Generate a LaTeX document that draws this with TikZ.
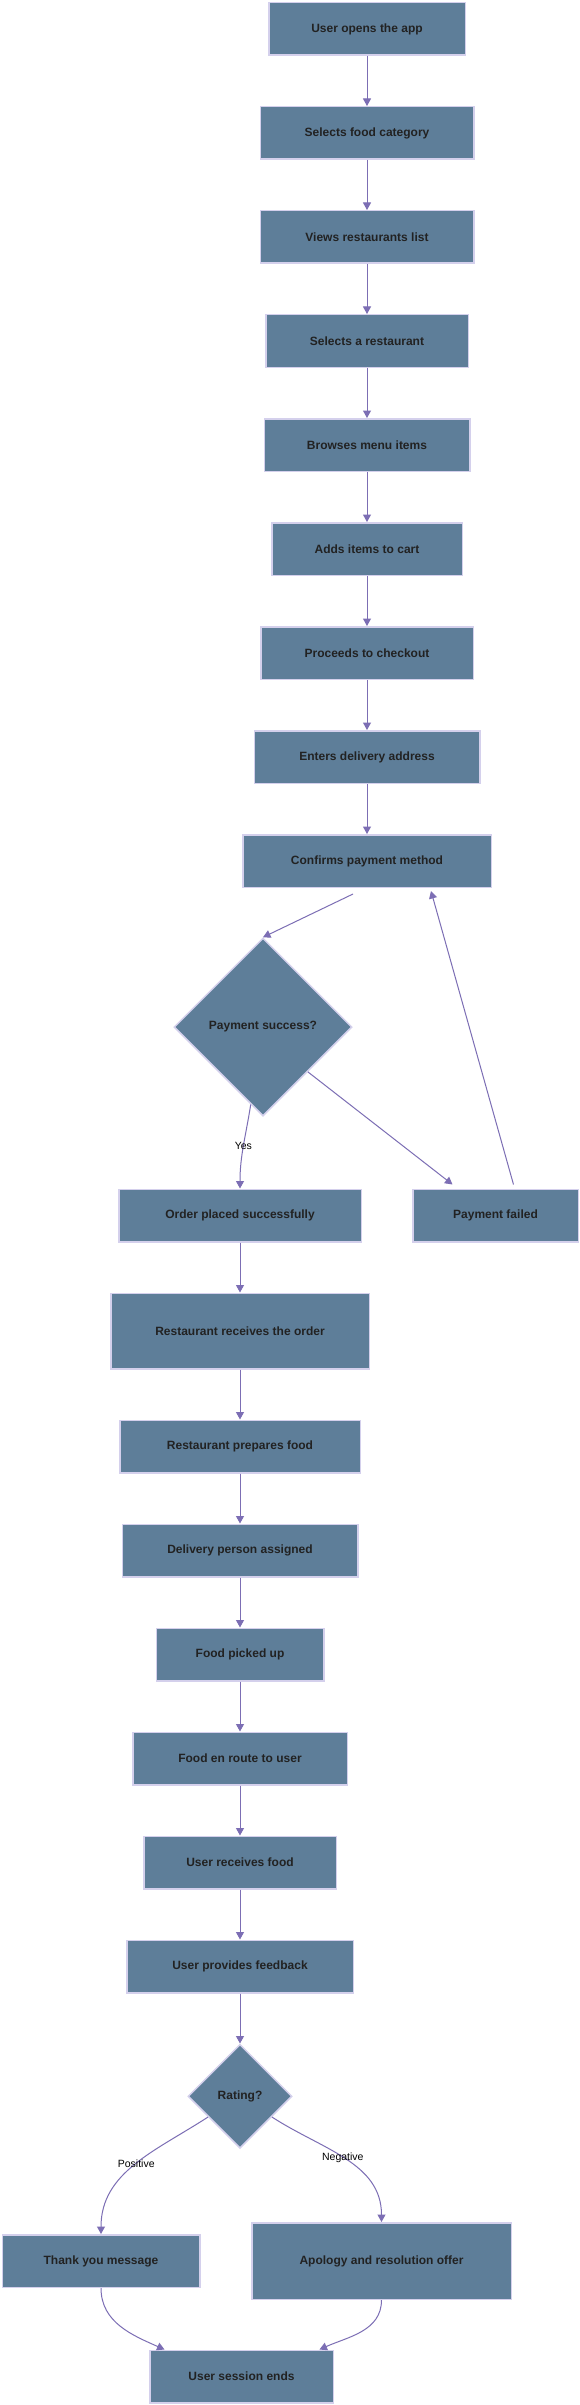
\documentclass[tikz,border=0pt]{standalone}
\usepackage{fontspec}
\setmainfont{Liberation Sans}
\usepackage{tikz}
\usetikzlibrary{positioning, arrows.meta, shapes.geometric}
\usepackage{xcolor}
\definecolor{boxfill}{RGB}{94, 126, 153}
\definecolor{boxline}{RGB}{212, 208, 236}
\definecolor{flowline}{RGB}{124, 110, 180}
\definecolor{boxtext}{RGB}{34, 34, 34}

\tikzset{
  stepbox/.style={draw=boxline, fill=boxfill, line width=1.5pt, minimum height=52.5pt,
    text=boxtext, font=\bfseries\fontsize{12}{14}\selectfont},
  choice/.style={diamond, aspect=1, draw=boxline, fill=boxfill, line width=1.5pt,
    inner sep=0pt, text=boxtext, font=\bfseries\fontsize{12}{14}\selectfont},
  flow/.style={->, flowline, line width=1pt},
  tag/.style={font=\fontsize{10.5}{12}\selectfont, text=black}
}

\begin{document}
\begin{tikzpicture}[>={Triangle[length=7.5pt,width=8pt]}, x=1pt, y=-1pt, node distance=50pt]
  \path[use as bounding box, fill=white] (0,0) rectangle (580,2405);

  % ordering
  \node[stepbox, minimum width=196.5pt] (open) at (367,29) {User opens the app};
  \node[stepbox, minimum width=213.5pt, below=of open] (cat) {Selects food category};
  \node[stepbox, minimum width=213.5pt, below=of cat] (list) {Views restaurants list};
  \node[stepbox, minimum width=202.5pt, below=of list] (rest) {Selects a restaurant};
  \node[stepbox, minimum width=205.5pt, below=of rest] (menu) {Browses menu items};
  \node[stepbox, minimum width=190.5pt, below=of menu] (cart) {Adds items to cart};
  \node[stepbox, minimum width=212.5pt, below=of cart] (chk) {Proceeds to checkout};
  \node[stepbox, minimum width=225.5pt, below=of chk] (addr) {Enters delivery address};
  \node[stepbox, minimum width=248.5pt, below=of addr] (conf) {Confirms payment method};
  \foreach \a/\b in {open/cat, cat/list, list/rest, rest/menu, menu/cart, cart/chk, chk/addr, addr/conf}
    \draw[flow] (\a) -- (\b);

  % payment check
  \node[choice, minimum size=178pt] (pay) at (263,1027) {Payment success?};
  \node[stepbox, minimum width=165.5pt] (fail) at (495.5,1215.5) {Payment failed};
  \node[stepbox, minimum width=242.5pt] (order) at (240,1215.5) {Order placed successfully};
  \draw[flow] ([xshift=-14pt,yshift=-6pt]conf.south) -- (pay.north);
  \draw[flow] (pay.south east) -- ([xshift=-43pt,yshift=4pt]fail.north);
  \draw[flow] ([xshift=18pt,yshift=4pt]fail.north) -- ([xshift=64pt,yshift=-3pt]conf.south);
  \draw[flow] (pay) to[out=-99, in=90] node[tag, pos=0.5] {Yes} (order);

  % delivery
  \node[stepbox, minimum width=258.5pt, minimum height=75.5pt, below=of order] (recv) {Restaurant receives the order};
  \node[stepbox, minimum width=240.5pt, below=of recv] (prep) {Restaurant prepares food};
  \node[stepbox, minimum width=235.5pt, below=of prep] (assign) {Delivery person assigned};
  \node[stepbox, minimum width=167.5pt, below=of assign] (pick) {Food picked up};
  \node[stepbox, minimum width=214.5pt, below=of pick] (route) {Food en route to user};
  \node[stepbox, minimum width=192.5pt, below=of route] (got) {User receives food};
  \node[stepbox, minimum width=226.5pt, below=of got] (fb) {User provides feedback};
  \node[choice, minimum size=104pt, below=of fb] (rate) {Rating?};
  \foreach \a/\b in {order/recv, recv/prep, prep/assign, assign/pick, pick/route, route/got, got/fb, fb/rate}
    \draw[flow] (\a) -- (\b);

  % feedback
  \node[stepbox, minimum width=197.5pt] (thank) at (101,2261) {Thank you message};
  \node[stepbox, minimum width=259.5pt, minimum height=76.5pt] (sorry) at (381.5,2261) {Apology and resolution offer};
  \node[stepbox, minimum width=183.5pt] (done) at (241.5,2376.5) {User session ends};
  \draw[flow] (rate) to[out=213, in=90] node[tag, pos=0.49] {Positive} (thank);
  \draw[flow] (rate) to[out=-33, in=90] node[tag, pos=0.48] {Negative} (sorry);
  \draw[flow] (thank.south) to[out=270, in=156] ([xshift=-77pt]done.north);
  \draw[flow] (sorry.south) to[out=270, in=24] ([xshift=78pt]done.north);
\end{tikzpicture}
\end{document}
